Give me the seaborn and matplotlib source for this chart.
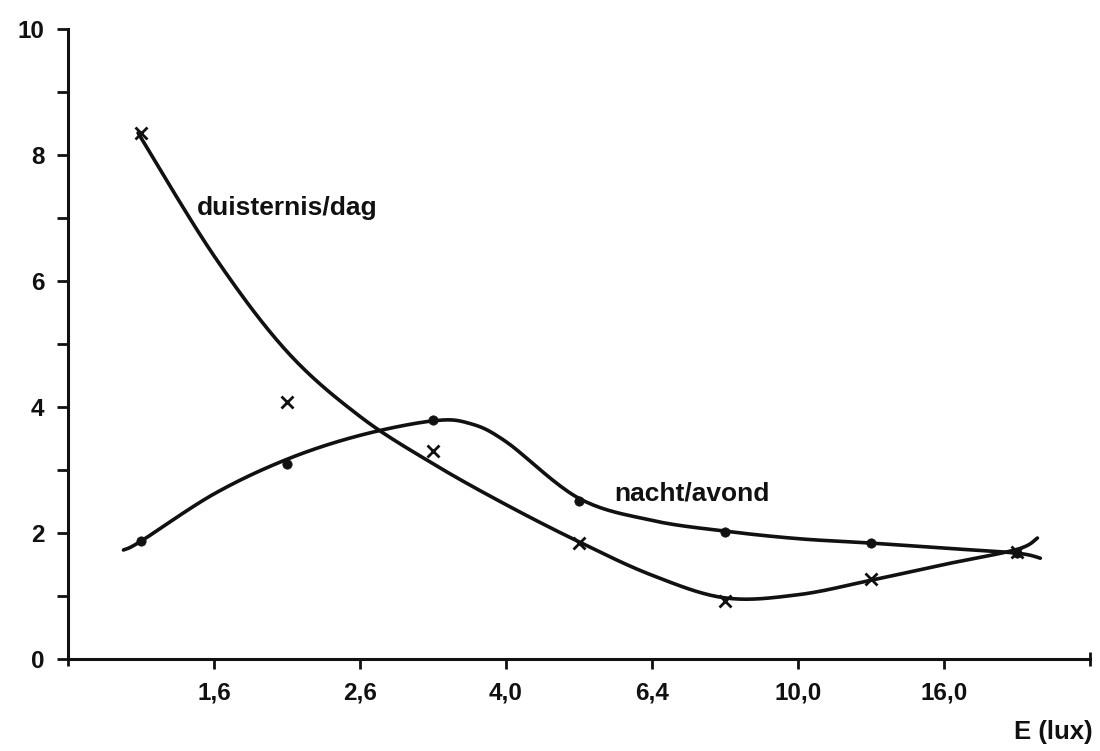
import numpy as np
import pandas as pd
import matplotlib
matplotlib.use("Agg")
import matplotlib.pyplot as plt
import seaborn as sns

# Light level classes (axis positions) and tick labels
tick_pos = [1, 2, 3, 4, 5, 6]
tick_labels = ["1,6", "2,6", "4,0", "6,4", "10,0", "16,0"]

# Measured points, plotted at the class midpoints
x_mid = [0.5, 1.5, 2.5, 3.5, 4.5, 5.5, 6.5]
dag_vals = [8.35, 4.08, 3.30, 1.84, 0.92, 1.27, 1.70]
nacht_vals = [1.87, 3.10, 3.80, 2.50, 2.02, 1.84, 1.68]

# Hand-drawn curves
dag_curve_x = [0.48, 1.0, 1.5, 2.0, 2.5, 3.0, 3.5, 4.0, 4.5, 5.0, 5.5, 6.0, 6.5, 6.64]
dag_curve_y = [8.35, 6.40, 4.88, 3.85, 3.10, 2.45, 1.86, 1.33, 0.97, 1.02, 1.25, 1.50, 1.74, 1.92]
nacht_curve_x = [0.38, 0.5, 1.0, 1.5, 2.0, 2.5, 2.75, 3.0, 3.5, 4.0, 4.5, 5.0, 5.5, 6.0, 6.5, 6.66]
nacht_curve_y = [1.73, 1.87, 2.62, 3.17, 3.55, 3.78, 3.74, 3.45, 2.55, 2.20, 2.03, 1.91, 1.84, 1.76, 1.68, 1.60]


def smooth(xs, ys, n=20):
    # catmull-rom through the read points, just to draw a smooth pen line
    pts = np.column_stack([xs, ys])
    p = np.vstack([pts[0], pts, pts[-1]])
    t = np.linspace(0, 1, n, endpoint=False)[:, None]
    out = []
    for i in range(1, len(p) - 2):
        p0, p1, p2, p3 = p[i - 1], p[i], p[i + 1], p[i + 2]
        out.append(0.5 * (2 * p1 + (-p0 + p2) * t
                          + (2 * p0 - 5 * p1 + 4 * p2 - p3) * t ** 2
                          + (-p0 + 3 * p1 - 3 * p2 + p3) * t ** 3))
    out.append(pts[-1:])
    return np.vstack(out)


sns.set_theme(style="white")
plt.rcParams["font.family"] = ["Liberation Sans", "DejaVu Sans"]
ink = "#111111"

fig = plt.figure(figsize=(11, 7.51), dpi=100)
ax = fig.add_axes([0.0618, 0.1225, 0.9291, 0.8389])

for cx, cy in [(dag_curve_x, dag_curve_y), (nacht_curve_x, nacht_curve_y)]:
    s = smooth(cx, cy)
    df = pd.DataFrame({"x": s[:, 0], "y": s[:, 1]})
    sns.lineplot(data=df, x="x", y="y", sort=False, estimator=None,
                 color=ink, linewidth=2.6, ax=ax)

pts = pd.DataFrame({"x": x_mid, "dag": dag_vals, "nacht": nacht_vals})
ax.plot(pts["x"], pts["dag"], linestyle="none", marker="x",
        markersize=8, markeredgewidth=2, color=ink)
sns.scatterplot(data=pts, x="x", y="nacht", marker="o", s=45,
                color=ink, edgecolor=ink, ax=ax, zorder=3)

ax.set_xlim(0, 7)
ax.set_ylim(0, 10)
ax.set_xticks(tick_pos)
ax.set_xticklabels(tick_labels)
ax.set_xticks([0, 7], minor=True)
ax.set_yticks([0, 2, 4, 6, 8, 10])
ax.set_yticks([1, 3, 5, 7, 9], minor=True)
ax.set_xlabel("")
ax.set_ylabel("")

for side in ["top", "right"]:
    ax.spines[side].set_visible(False)
for side in ["left", "bottom"]:
    ax.spines[side].set_color(ink)
    ax.spines[side].set_linewidth(2.2)

ax.tick_params(axis="both", which="both", color=ink, width=2, bottom=True, left=True)
ax.tick_params(axis="x", which="major", direction="out", length=7, pad=9,
               labelsize=17.5, labelcolor=ink)
ax.tick_params(axis="x", which="minor", direction="inout", length=10)
ax.tick_params(axis="y", which="both", direction="out", length=8, pad=9,
               labelsize=17.5, labelcolor=ink)
for lab in ax.get_xticklabels() + ax.get_yticklabels():
    lab.set_fontweight("bold")

ax.text(0.88, 7.16, "duisternis/dag", fontsize=19, fontweight="bold",
        color=ink, ha="left", va="center")
ax.text(3.74, 2.62, "nacht/avond", fontsize=19, fontweight="bold",
        color=ink, ha="left", va="center")
fig.text(1093 / 1100, 1 - 732 / 751, "E (lux)", fontsize=18.5, fontweight="bold",
         color=ink, ha="right", va="center")

fig.savefig("out.png", dpi=100, facecolor="white")
